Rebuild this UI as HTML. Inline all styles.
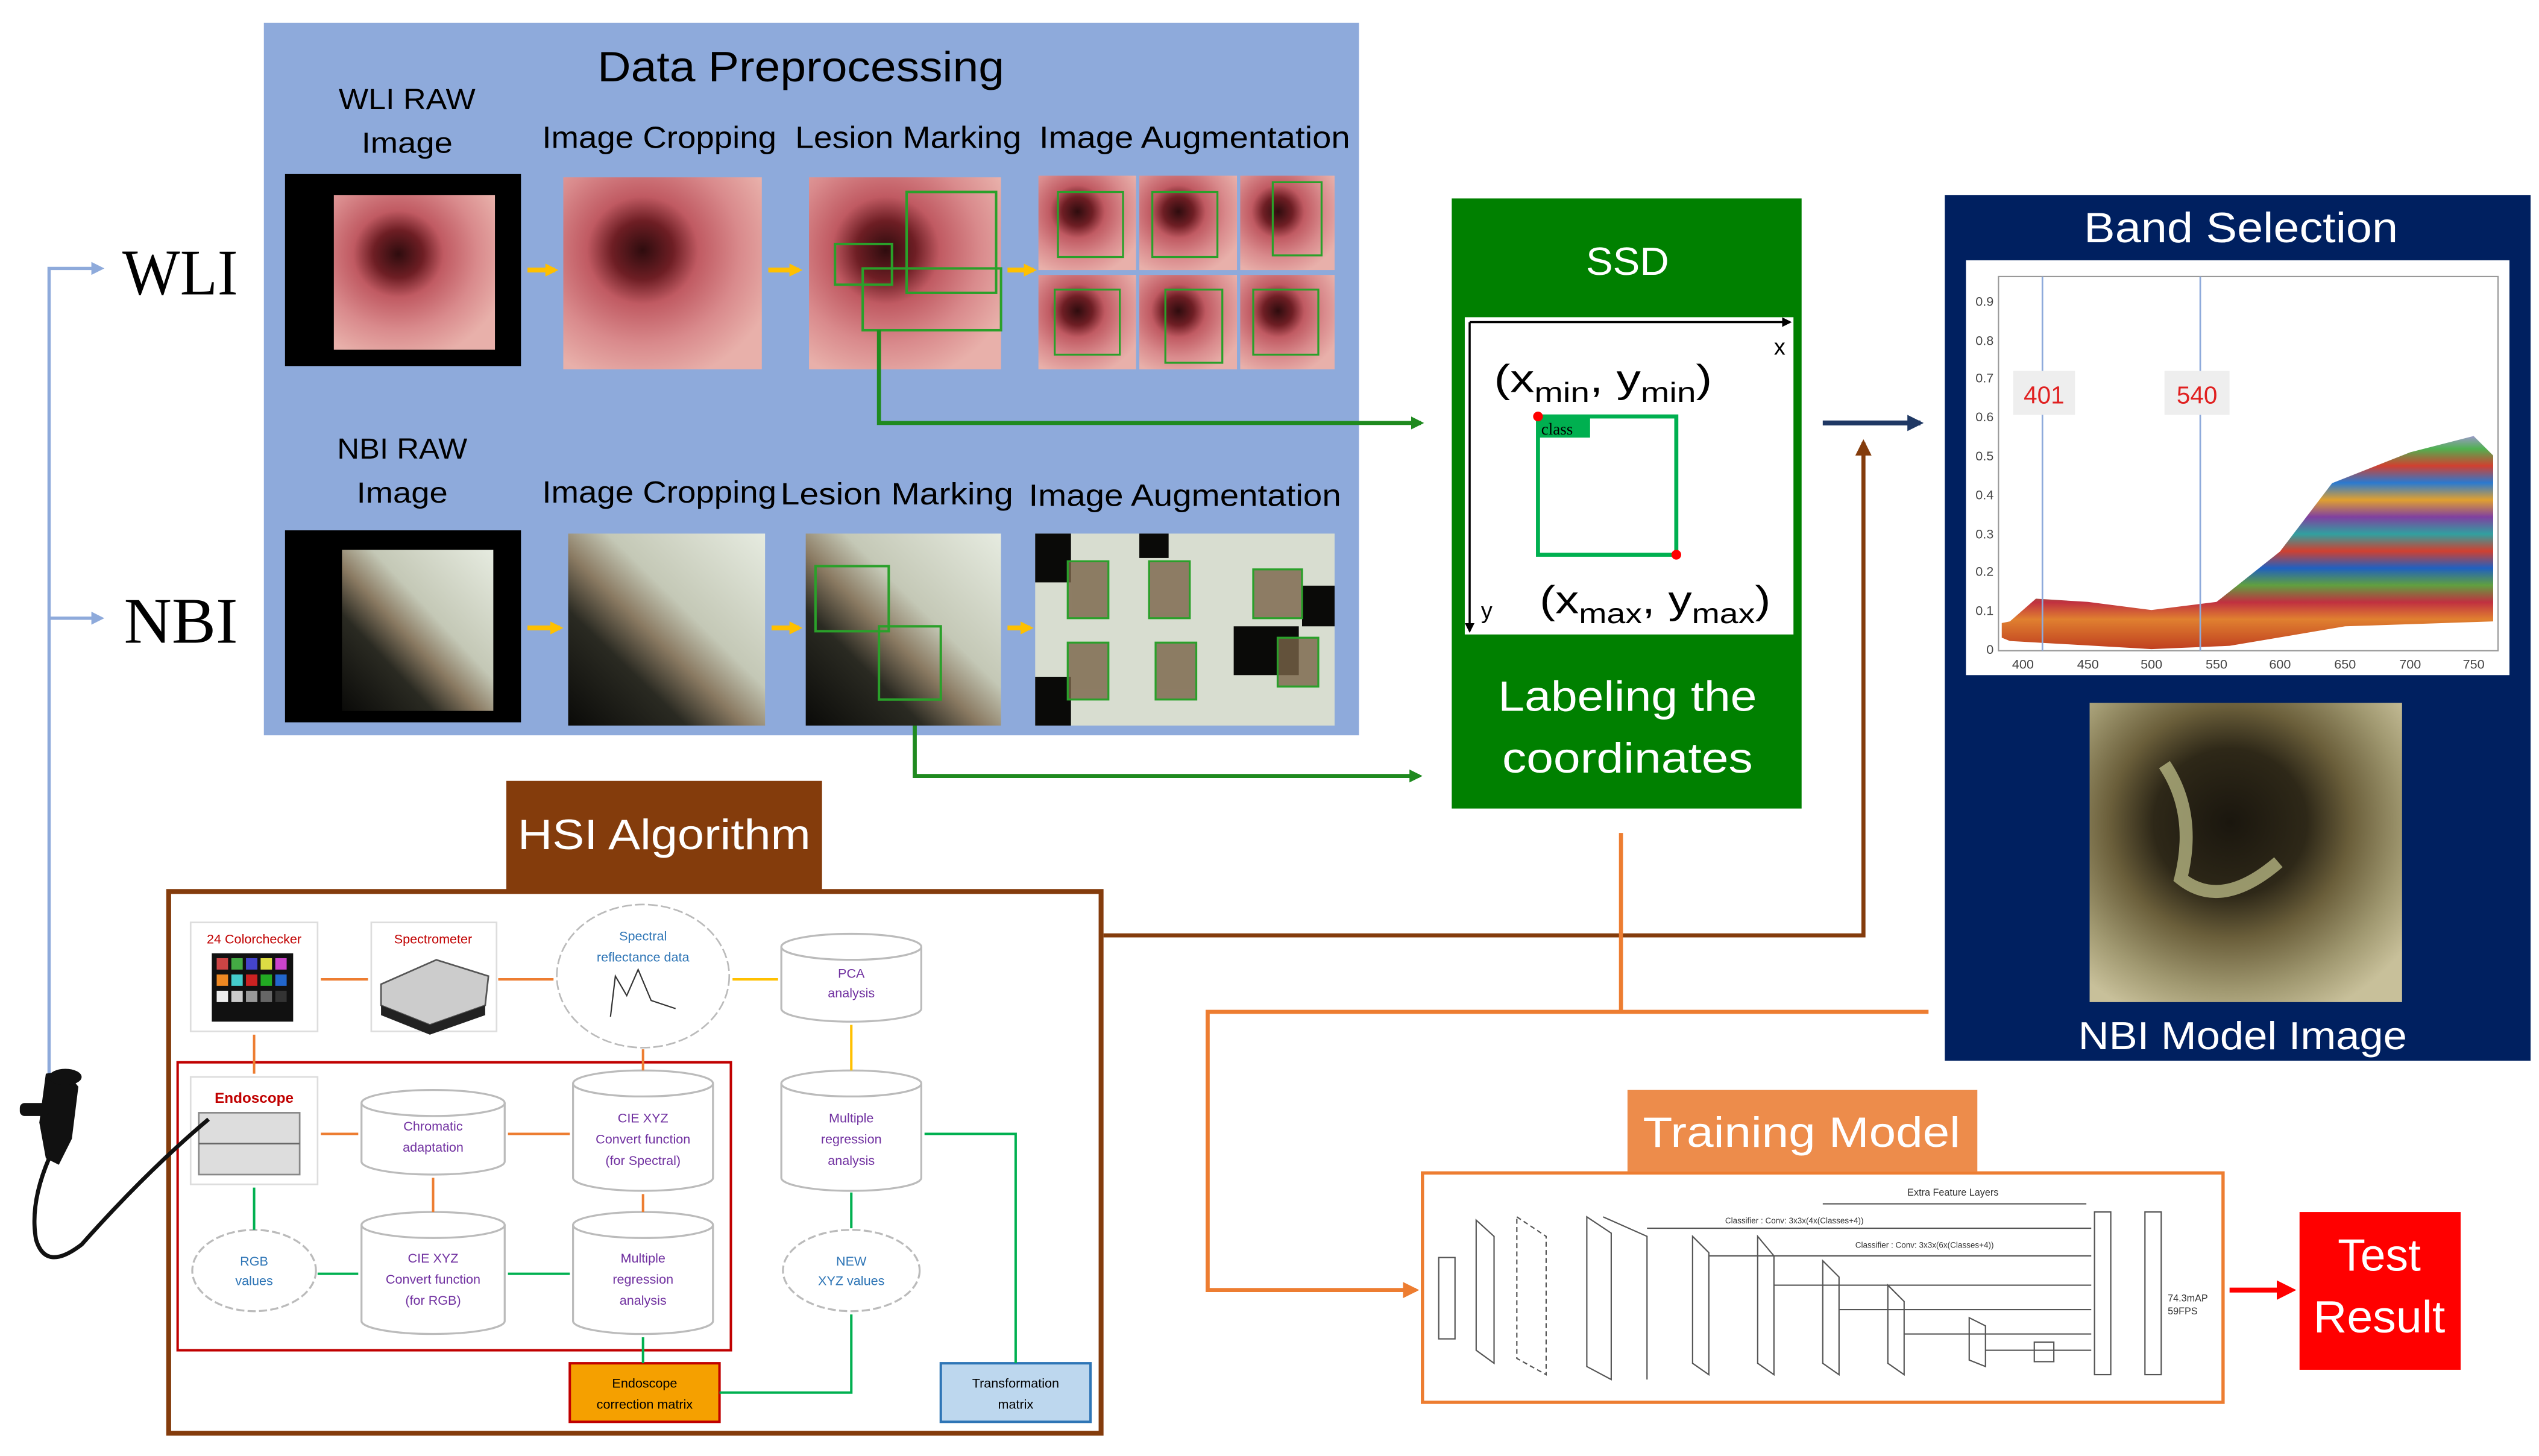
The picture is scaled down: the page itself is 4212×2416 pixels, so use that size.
<!DOCTYPE html>
<html><head><meta charset="utf-8"><style>
html,body{margin:0;padding:0;background:#fff}
svg{display:block}
text{font-family:"Liberation Sans",sans-serif}
</style></head><body>
<svg xmlns="http://www.w3.org/2000/svg" width="4212" height="2416" viewBox="0 0 1560 895">
<defs>
<radialGradient id="wli" cx="0.4" cy="0.38" r="0.7">
<stop offset="0" stop-color="#2e0c0e"/><stop offset="0.22" stop-color="#6e1e24"/><stop offset="0.4" stop-color="#c05a62"/><stop offset="0.7" stop-color="#d98a8c"/><stop offset="1" stop-color="#e8b0aa"/></radialGradient>
<linearGradient id="nbi" x1="0" y1="1" x2="1" y2="0">
<stop offset="0" stop-color="#0a0a08"/><stop offset="0.3" stop-color="#2a2a22"/><stop offset="0.45" stop-color="#8a7a62"/><stop offset="0.6" stop-color="#c4c8b6"/><stop offset="1" stop-color="#e6ebe0"/></linearGradient>
<linearGradient id="band" x1="0" y1="0" x2="0" y2="1">
<stop offset="0" stop-color="#9a9ac8"/><stop offset="0.06" stop-color="#50b050"/><stop offset="0.14" stop-color="#d04030"/><stop offset="0.22" stop-color="#2a7ad0"/><stop offset="0.3" stop-color="#e0a030"/><stop offset="0.38" stop-color="#8040a0"/><stop offset="0.46" stop-color="#30a0a0"/><stop offset="0.54" stop-color="#d04030"/><stop offset="0.62" stop-color="#2060c0"/><stop offset="0.7" stop-color="#60a040"/><stop offset="0.78" stop-color="#c03040"/><stop offset="0.86" stop-color="#e08030"/><stop offset="1" stop-color="#c04020"/></linearGradient>
<radialGradient id="nbim" cx="0.45" cy="0.4" r="0.7">
<stop offset="0" stop-color="#1a160e"/><stop offset="0.35" stop-color="#2e2818"/><stop offset="0.55" stop-color="#6a5e3a"/><stop offset="0.8" stop-color="#a09870"/><stop offset="1" stop-color="#c8c09a"/></radialGradient>
<marker id="ag" markerWidth="8" markerHeight="8" refX="6" refY="4" orient="auto" markerUnits="userSpaceOnUse"><path d="M0,0 L8,4 L0,8 z" fill="#1f8a1f"/></marker>
<marker id="ab" markerWidth="8" markerHeight="8" refX="6" refY="4" orient="auto" markerUnits="userSpaceOnUse"><path d="M0,0 L8,4 L0,8 z" fill="#8eaadb"/></marker>
<marker id="an" markerWidth="10" markerHeight="10" refX="8" refY="5" orient="auto" markerUnits="userSpaceOnUse"><path d="M0,0 L10,5 L0,10 z" fill="#1f3864"/></marker>
<marker id="abr" markerWidth="10" markerHeight="10" refX="8" refY="5" orient="auto" markerUnits="userSpaceOnUse"><path d="M0,0 L10,5 L0,10 z" fill="#843c0c"/></marker>
<marker id="ao" markerWidth="10" markerHeight="10" refX="8" refY="5" orient="auto" markerUnits="userSpaceOnUse"><path d="M0,0 L10,5 L0,10 z" fill="#ed7d31"/></marker>
<marker id="ar" markerWidth="12" markerHeight="12" refX="9" refY="6" orient="auto" markerUnits="userSpaceOnUse"><path d="M0,0 L12,6 L0,12 z" fill="#ff0000"/></marker>
<marker id="ay" markerWidth="8" markerHeight="8" refX="6" refY="4" orient="auto" markerUnits="userSpaceOnUse"><path d="M0,0 L8,4 L0,8 z" fill="#ffc000"/></marker>
<marker id="ak" markerWidth="6" markerHeight="6" refX="5" refY="3" orient="auto" markerUnits="userSpaceOnUse"><path d="M0,0 L6,3 L0,6 z" fill="#000"/></marker>
</defs>

<!-- Data preprocessing -->
<rect x="162" y="14" width="673" height="438" fill="#8eaadb"/>
<text x="492" y="50" font-size="26" text-anchor="middle" textLength="250" lengthAdjust="spacingAndGlyphs">Data Preprocessing</text>
<text x="250" y="67" font-size="18" text-anchor="middle" textLength="84" lengthAdjust="spacingAndGlyphs">WLI RAW</text>
<text x="250" y="94" font-size="18" text-anchor="middle" textLength="56" lengthAdjust="spacingAndGlyphs">Image</text>
<text x="405" y="91" font-size="19" text-anchor="middle" textLength="144" lengthAdjust="spacingAndGlyphs">Image Cropping</text>
<text x="558" y="91" font-size="19" text-anchor="middle" textLength="139" lengthAdjust="spacingAndGlyphs">Lesion Marking</text>
<text x="734" y="91" font-size="19" text-anchor="middle" textLength="191" lengthAdjust="spacingAndGlyphs">Image Augmentation</text>
<text x="247" y="282" font-size="18" text-anchor="middle" textLength="80" lengthAdjust="spacingAndGlyphs">NBI RAW</text>
<text x="247" y="309" font-size="18" text-anchor="middle" textLength="56" lengthAdjust="spacingAndGlyphs">Image</text>
<text x="405" y="309" font-size="19" text-anchor="middle" textLength="144" lengthAdjust="spacingAndGlyphs">Image Cropping</text>
<text x="551" y="310" font-size="19" text-anchor="middle" textLength="143" lengthAdjust="spacingAndGlyphs">Lesion Marking</text>
<text x="728" y="311" font-size="19" text-anchor="middle" textLength="192" lengthAdjust="spacingAndGlyphs">Image Augmentation</text>

<!-- WLI images -->
<rect x="175" y="107" width="145" height="118" fill="#000"/>
<rect x="205" y="120" width="99" height="95" fill="url(#wli)"/>
<rect x="346" y="109" width="122" height="118" fill="url(#wli)"/>
<rect x="497" y="109" width="118" height="118" fill="url(#wli)"/>
<g fill="none" stroke="#2aa02a" stroke-width="1.5">
<rect x="557" y="118" width="55" height="62"/><rect x="513" y="150" width="35" height="25"/><rect x="530" y="165" width="85" height="38"/></g>
<g>
<rect x="638" y="108" width="60" height="58" fill="url(#wli)"/><rect x="700" y="108" width="60" height="58" fill="url(#wli)"/><rect x="762" y="108" width="58" height="58" fill="url(#wli)"/>
<rect x="638" y="169" width="60" height="58" fill="url(#wli)"/><rect x="700" y="169" width="60" height="58" fill="url(#wli)"/><rect x="762" y="169" width="58" height="58" fill="url(#wli)"/>
<g fill="none" stroke="#2aa02a" stroke-width="1.2">
<rect x="650" y="118" width="40" height="40"/><rect x="708" y="118" width="40" height="40"/><rect x="782" y="112" width="30" height="45"/>
<rect x="648" y="178" width="40" height="40"/><rect x="716" y="178" width="35" height="45"/><rect x="770" y="178" width="40" height="40"/></g></g>
<!-- NBI images -->
<rect x="175" y="326" width="145" height="118" fill="#000"/>
<rect x="210" y="338" width="93" height="99" fill="url(#nbi)"/>
<rect x="349" y="328" width="121" height="118" fill="url(#nbi)"/>
<rect x="495" y="328" width="120" height="118" fill="url(#nbi)"/>
<g fill="none" stroke="#2aa02a" stroke-width="1.5"><rect x="501" y="348" width="45" height="40"/><rect x="540" y="385" width="38" height="45"/></g>
<rect x="636" y="328" width="184" height="118" fill="#d8ddd0"/>
<g fill="#0a0a08"><rect x="636" y="328" width="22" height="30"/><rect x="636" y="416" width="22" height="30"/><rect x="700" y="328" width="18" height="15"/><rect x="758" y="385" width="40" height="30"/><rect x="800" y="360" width="20" height="25"/></g>
<g fill="#7a6448" opacity="0.8"><rect x="656" y="345" width="25" height="35"/><rect x="706" y="345" width="25" height="35"/><rect x="656" y="395" width="25" height="35"/><rect x="710" y="395" width="25" height="35"/><rect x="770" y="350" width="30" height="30"/><rect x="785" y="392" width="25" height="30"/></g>
<g fill="none" stroke="#2aa02a" stroke-width="1.2"><rect x="656" y="345" width="25" height="35"/><rect x="706" y="345" width="25" height="35"/><rect x="656" y="395" width="25" height="35"/><rect x="710" y="395" width="25" height="35"/><rect x="770" y="350" width="30" height="30"/><rect x="785" y="392" width="25" height="30"/></g>
<!-- yellow arrows -->
<g stroke="#ffc000" stroke-width="3" marker-end="url(#ay)">
<line x1="324" y1="166" x2="341" y2="166"/><line x1="472" y1="166" x2="491" y2="166"/><line x1="619" y1="166" x2="635" y2="166"/>
<line x1="324" y1="386" x2="344" y2="386"/><line x1="474" y1="386" x2="491" y2="386"/><line x1="619" y1="386" x2="633" y2="386"/></g>

<!-- WLI / NBI -->
<text x="75" y="181" font-family="Liberation Serif" font-size="40" textLength="71" lengthAdjust="spacingAndGlyphs" style="font-family:'Liberation Serif',serif">WLI</text>
<text x="76" y="395" font-size="40" textLength="70" lengthAdjust="spacingAndGlyphs" style="font-family:'Liberation Serif',serif">NBI</text>
<g stroke="#8eaadb" stroke-width="2" fill="none">
<path d="M30,660 L30,165 L62,165" marker-end="url(#ab)"/>
<path d="M30,380 L62,380" marker-end="url(#ab)"/></g>

<!-- green connectors -->
<g stroke="#1f8a1f" stroke-width="2.5" fill="none">
<path d="M540,203 L540,260 L873,260" marker-end="url(#ag)"/>
<path d="M562,446 L562,477 L872,477" marker-end="url(#ag)"/></g>

<!-- SSD -->
<rect x="892" y="122" width="215" height="375" fill="#008000"/>
<text x="1000" y="169" font-size="24" fill="#fff" text-anchor="middle" textLength="51" lengthAdjust="spacingAndGlyphs">SSD</text>
<rect x="900" y="195" width="202" height="195" fill="#fff"/>
<line x1="903" y1="198" x2="1100" y2="198" stroke="#000" stroke-width="1.3" marker-end="url(#ak)"/>
<line x1="903" y1="198" x2="903" y2="388" stroke="#000" stroke-width="1.3" marker-end="url(#ak)"/>
<text x="1090" y="218" font-size="14">x</text>
<text x="910" y="380" font-size="14">y</text>
<text x="918" y="241" font-size="24" textLength="134" lengthAdjust="spacingAndGlyphs">(x<tspan font-size="17" dy="6">min</tspan><tspan dy="-6">, y</tspan><tspan font-size="17" dy="6">min</tspan><tspan dy="-6">)</tspan></text>
<rect x="945" y="256" width="85" height="85" fill="none" stroke="#00b050" stroke-width="2.5"/>
<rect x="945" y="256" width="32" height="13" fill="#00b050"/>
<text x="947" y="267" font-size="10" style="font-family:'Liberation Serif',serif">class</text>
<circle cx="945" cy="256" r="3" fill="#ff0000"/><circle cx="1030" cy="341" r="3" fill="#ff0000"/>
<text x="946" y="377" font-size="24" textLength="142" lengthAdjust="spacingAndGlyphs">(x<tspan font-size="17" dy="6">max</tspan><tspan dy="-6">, y</tspan><tspan font-size="17" dy="6">max</tspan><tspan dy="-6">)</tspan></text>
<text x="1000" y="437" font-size="26" fill="#fff" text-anchor="middle" textLength="159" lengthAdjust="spacingAndGlyphs">Labeling the</text>
<text x="1000" y="475" font-size="26" fill="#fff" text-anchor="middle" textLength="154" lengthAdjust="spacingAndGlyphs">coordinates</text>

<line x1="1120" y1="260" x2="1180" y2="260" stroke="#1f3864" stroke-width="3" marker-end="url(#an)"/>

<!-- Band selection -->
<rect x="1195" y="120" width="360" height="532" fill="#002060"/>
<text x="1377" y="149" font-size="26" fill="#fff" text-anchor="middle" textLength="193" lengthAdjust="spacingAndGlyphs">Band Selection</text>
<rect x="1208" y="160" width="334" height="255" fill="#fff"/>
<rect x="1228" y="170" width="307" height="230" fill="none" stroke="#999" stroke-width="0.8"/>
<g font-size="8" fill="#444" text-anchor="end">
<text x="1225" y="402">0</text><text x="1225" y="378">0.1</text><text x="1225" y="354">0.2</text><text x="1225" y="331">0.3</text><text x="1225" y="307">0.4</text><text x="1225" y="283">0.5</text><text x="1225" y="259">0.6</text><text x="1225" y="235">0.7</text><text x="1225" y="212">0.8</text><text x="1225" y="188">0.9</text></g>
<g font-size="8" fill="#444" text-anchor="middle">
<text x="1243" y="411">400</text><text x="1283" y="411">450</text><text x="1322" y="411">500</text><text x="1362" y="411">550</text><text x="1401" y="411">600</text><text x="1441" y="411">650</text><text x="1481" y="411">700</text><text x="1520" y="411">750</text></g>
<path d="M1230,383 L1235,382 L1251,368 L1283,370 L1322,375 L1362,370 L1401,339 L1433,297 L1481,278 L1520,268 L1532,280 L1532,382 L1441,385 L1370,397 L1322,399 L1235,394 L1230,392 Z" fill="url(#band)"/>
<line x1="1255" y1="170" x2="1255" y2="400" stroke="#8eaadb" stroke-width="1"/>
<line x1="1352" y1="170" x2="1352" y2="400" stroke="#8eaadb" stroke-width="1"/>
<rect x="1237" y="228" width="38" height="27" fill="#eee"/><rect x="1330" y="228" width="40" height="27" fill="#eee"/>
<text x="1256" y="248" font-size="15" fill="#e02020" text-anchor="middle">401</text>
<text x="1350" y="248" font-size="15" fill="#e02020" text-anchor="middle">540</text>
<rect x="1284" y="432" width="192" height="184" fill="url(#nbim)"/>
<path d="M1330,470 Q1350,500 1340,540 Q1365,560 1400,530" stroke="#c8c890" stroke-width="8" fill="none" opacity="0.7"/>
<text x="1378" y="645" font-size="24" fill="#fff" text-anchor="middle" textLength="202" lengthAdjust="spacingAndGlyphs">NBI Model Image</text>

<!-- brown & orange connectors -->
<path d="M678,575 L1145,575 L1145,272" stroke="#843c0c" stroke-width="2.5" fill="none" marker-end="url(#abr)"/>
<g stroke="#ed7d31" stroke-width="2.5" fill="none">
<line x1="996" y1="512" x2="996" y2="622"/>
<path d="M1185,622 L742,622 L742,793 L870,793" marker-end="url(#ao)"/></g>

<!-- HSI -->
<rect x="311" y="480" width="194" height="67" fill="#843c0c"/>
<text x="408" y="522" font-size="26" fill="#fff" text-anchor="middle" textLength="180" lengthAdjust="spacingAndGlyphs">HSI Algorithm</text>
<rect x="103.5" y="548" width="573" height="333" fill="#fff" stroke="#843c0c" stroke-width="3"/>
<rect x="109" y="653" width="340" height="177" fill="none" stroke="#c00000" stroke-width="1.5"/>
<!-- card / spectrometer -->
<rect x="117" y="567" width="78" height="67" fill="#fff" stroke="#ddd"/>
<text x="156" y="580" font-size="8" fill="#c00000" text-anchor="middle">24 Colorchecker</text>
<rect x="130" y="586" width="50" height="42" fill="#111"/>
<g><rect x="133" y="589" width="7" height="7" fill="#c44"/><rect x="142" y="589" width="7" height="7" fill="#4a4"/><rect x="151" y="589" width="7" height="7" fill="#44c"/><rect x="160" y="589" width="7" height="7" fill="#dd4"/><rect x="169" y="589" width="7" height="7" fill="#c4c"/>
<rect x="133" y="599" width="7" height="7" fill="#e82"/><rect x="142" y="599" width="7" height="7" fill="#4cc"/><rect x="151" y="599" width="7" height="7" fill="#c22"/><rect x="160" y="599" width="7" height="7" fill="#2a2"/><rect x="169" y="599" width="7" height="7" fill="#26c"/>
<rect x="133" y="609" width="7" height="7" fill="#eee"/><rect x="142" y="609" width="7" height="7" fill="#ccc"/><rect x="151" y="609" width="7" height="7" fill="#999"/><rect x="160" y="609" width="7" height="7" fill="#666"/><rect x="169" y="609" width="7" height="7" fill="#333"/></g>
<rect x="228" y="567" width="77" height="67" fill="#fff" stroke="#ddd"/>
<text x="266" y="580" font-size="8" fill="#c00000" text-anchor="middle">Spectrometer</text>
<path d="M234,605 L268,590 L300,600 L298,618 L264,630 L234,618 Z" fill="#ccc" stroke="#555"/>
<path d="M234,618 L264,630 L298,618 L298,624 L264,636 L234,624Z" fill="#222"/>
<!-- cloud -->
<ellipse cx="395" cy="600" rx="53" ry="44" fill="#fff" stroke="#bbb" stroke-dasharray="6 2"/>
<text x="395" y="578" font-size="8" fill="#2e75b6" text-anchor="middle">Spectral</text>
<text x="395" y="591" font-size="8" fill="#2e75b6" text-anchor="middle">reflectance data</text>
<path d="M375,625 L378,600 L385,612 L392,596 L400,615 L415,620" fill="none" stroke="#333" stroke-width="0.8"/>
<!-- cylinders -->
<g fill="#fff" stroke="#bbb" stroke-width="1.2">
<path d="M480,582 L480,620 A43,8 0 0 0 566,620 L566,582"/><ellipse cx="523" cy="582" rx="43" ry="8"/>
<path d="M222,678 L222,714 A44,8 0 0 0 310,714 L310,678"/><ellipse cx="266" cy="678" rx="44" ry="8"/>
<path d="M352,666 L352,724 A43,8 0 0 0 438,724 L438,666"/><ellipse cx="395" cy="666" rx="43" ry="8"/>
<path d="M480,666 L480,724 A43,8 0 0 0 566,724 L566,724 L566,666"/><ellipse cx="523" cy="666" rx="43" ry="8"/>
<path d="M222,753 L222,812 A44,8 0 0 0 310,812 L310,753"/><ellipse cx="266" cy="753" rx="44" ry="8"/>
<path d="M352,753 L352,812 A43,8 0 0 0 438,812 L438,753"/><ellipse cx="395" cy="753" rx="43" ry="8"/>
<ellipse cx="156" cy="781" rx="38" ry="25" stroke-dasharray="5 2"/>
<ellipse cx="523" cy="781" rx="42" ry="25" stroke-dasharray="5 2"/></g>
<g font-size="8" fill="#7030a0" text-anchor="middle">
<text x="523" y="601">PCA</text><text x="523" y="613">analysis</text>
<text x="266" y="695">Chromatic</text><text x="266" y="708">adaptation</text>
<text x="395" y="690">CIE XYZ</text><text x="395" y="703">Convert function</text><text x="395" y="716">(for Spectral)</text>
<text x="523" y="690">Multiple</text><text x="523" y="703">regression</text><text x="523" y="716">analysis</text>
<text x="266" y="776">CIE XYZ</text><text x="266" y="789">Convert function</text><text x="266" y="802">(for RGB)</text>
<text x="395" y="776">Multiple</text><text x="395" y="789">regression</text><text x="395" y="802">analysis</text>
<text x="156" y="778" fill="#2e75b6">RGB</text><text x="156" y="790" fill="#2e75b6">values</text>
<text x="523" y="778" fill="#2e75b6">NEW</text><text x="523" y="790" fill="#2e75b6">XYZ values</text></g>
<rect x="117" y="662" width="78" height="66" fill="#fff" stroke="#ddd"/>
<text x="156" y="678" font-size="9" fill="#c00000" font-weight="bold" text-anchor="middle">Endoscope</text>
<rect x="122" y="684" width="62" height="38" fill="#ddd" stroke="#888"/>
<line x1="122" y1="703" x2="184" y2="703" stroke="#666"/>
<rect x="350" y="838" width="92" height="36" fill="#f5a000" stroke="#c00000" stroke-width="1.5"/>
<text x="396" y="853" font-size="8" text-anchor="middle">Endoscope</text><text x="396" y="866" font-size="8" text-anchor="middle">correction matrix</text>
<rect x="578" y="838" width="92" height="36" fill="#bdd7ee" stroke="#2e75b6" stroke-width="1.5"/>
<text x="624" y="853" font-size="8" text-anchor="middle">Transformation</text><text x="624" y="866" font-size="8" text-anchor="middle">matrix</text>
<g stroke-width="1.5" fill="none">
<g stroke="#ed7d31"><line x1="197" y1="602" x2="226" y2="602"/><line x1="306" y1="602" x2="340" y2="602"/><line x1="156" y1="636" x2="156" y2="660"/><line x1="395" y1="645" x2="395" y2="658"/><line x1="350" y1="697" x2="312" y2="697"/><line x1="220" y1="697" x2="197" y2="697"/><line x1="266" y1="724" x2="266" y2="745"/><line x1="395" y1="734" x2="395" y2="745"/></g>
<g stroke="#ffc000"><line x1="450" y1="602" x2="478" y2="602"/><line x1="523" y1="630" x2="523" y2="658"/></g>
<g stroke="#00b050"><line x1="156" y1="730" x2="156" y2="756"/><line x1="195" y1="783" x2="220" y2="783"/><line x1="312" y1="783" x2="350" y2="783"/><line x1="395" y1="822" x2="395" y2="838"/><path d="M442,856 L523,856 L523,808"/><line x1="523" y1="755" x2="523" y2="733"/><path d="M568,697 L624,697 L624,838"/></g></g>

<!-- endoscope device -->
<g fill="#111">
<path d="M28,660 L40,658 L48,668 L44,700 L36,716 L28,712 L24,690 Z"/>
<ellipse cx="40" cy="662" rx="10" ry="5"/>
<rect x="12" y="678" width="18" height="8" rx="3"/></g>
<path d="M30,712 Q18,740 22,762 Q28,782 50,765 Q90,720 128,688" stroke="#111" stroke-width="2.5" fill="none"/>

<!-- Training model -->
<rect x="1000" y="670" width="215" height="50" fill="#ed8c4b"/>
<text x="1107" y="705" font-size="26" fill="#fff" text-anchor="middle" textLength="195" lengthAdjust="spacingAndGlyphs">Training Model</text>
<rect x="874" y="721" width="492" height="141" fill="#fff" stroke="#ed7d31" stroke-width="2"/>
<g fill="none" stroke="#555" stroke-width="0.8">
<rect x="884" y="773" width="10" height="50"/>
<path d="M907,750 L918,760 L918,838 L907,830 Z"/>
<path d="M932,748 L950,760 L950,845 L932,835 Z" stroke-dasharray="3 2"/>
<path d="M975,748 L990,758 L990,848 L975,840 Z"/><path d="M985,748 L1012,760 L1012,848"/>
<path d="M1040,760 L1050,770 L1050,845 L1040,838 Z"/><path d="M1080,760 L1090,772 L1090,845 L1080,838 Z"/>
<path d="M1120,775 L1130,785 L1130,845 L1120,838 Z"/><path d="M1160,790 L1170,800 L1170,845 L1160,838 Z"/>
<path d="M1210,810 L1220,815 L1220,840 L1210,836 Z"/><rect x="1250" y="825" width="12" height="12"/>
<rect x="1287" y="745" width="10" height="100"/><rect x="1318" y="745" width="10" height="100"/>
<line x1="1012" y1="755" x2="1285" y2="755"/><line x1="1050" y1="772" x2="1285" y2="772"/><line x1="1090" y1="790" x2="1285" y2="790"/><line x1="1130" y1="805" x2="1285" y2="805"/><line x1="1170" y1="820" x2="1285" y2="820"/><line x1="1220" y1="830" x2="1285" y2="830"/>
<line x1="1120" y1="740" x2="1282" y2="740"/></g>
<text x="1200" y="735" font-size="6" text-anchor="middle" fill="#333">Extra Feature Layers</text>
<text x="1060" y="752" font-size="5" fill="#333">Classifier : Conv: 3x3x(4x(Classes+4))</text>
<text x="1140" y="767" font-size="5" fill="#333">Classifier : Conv: 3x3x(6x(Classes+4))</text>
<text x="1332" y="800" font-size="6" fill="#333">74.3mAP</text><text x="1332" y="808" font-size="6" fill="#333">59FPS</text>
<line x1="1370" y1="793" x2="1408" y2="793" stroke="#ff0000" stroke-width="3" marker-end="url(#ar)"/>
<rect x="1413" y="745" width="99" height="97" fill="#ff0000"/>
<text x="1462" y="781" font-size="28" fill="#fff" text-anchor="middle" textLength="51" lengthAdjust="spacingAndGlyphs">Test</text>
<text x="1462" y="819" font-size="28" fill="#fff" text-anchor="middle" textLength="81" lengthAdjust="spacingAndGlyphs">Result</text>
</svg>
</body></html>
